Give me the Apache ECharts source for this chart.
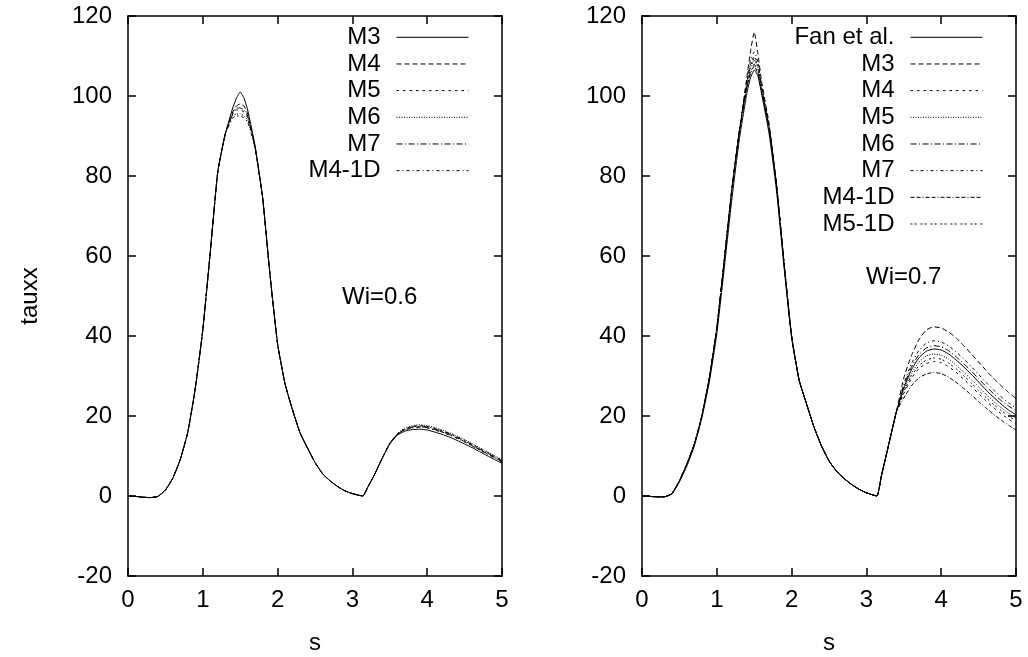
<!DOCTYPE html>
<html>
<head>
<meta charset="utf-8">
<script src="https://cdn.jsdelivr.net/npm/echarts@6/dist/echarts.min.js"></script>
<style>html,body{margin:0;padding:0;background:#fff}#c{width:1028px;height:657px}</style>
</head>
<body>
<div id="c"></div>
<script>
// arc-length coordinate s
const sVals = [0,0.1,0.2,0.3,0.4,0.5,0.6,0.7,0.8,0.9,1.0,1.1,1.2,1.3,1.4,1.45,1.5,1.55,1.6,1.7,1.8,1.9,2.0,2.1,2.2,2.3,2.4,2.5,2.6,2.7,2.8,2.9,3.0,3.14,3.2,3.3,3.4,3.5,3.6,3.7,3.8,3.9,4.0,4.1,4.2,4.3,4.4,4.5,4.6,4.7,4.8,4.9,5.0];

// Left panel, Wi=0.6
const leftM3   = [0,-0.1,-0.3,-0.4,-0.1,1.5,4.5,9.2,16,27,41.5,61,81,90.5, 97,99.5,101,99.5,96.5,87.5,74.5,55,38, 28,21.5,15.8,12,8.4,5.6,3.8,2.4,1.3,0.6,0,2,5.5,9.5, 13,15.2,16.2,16.6,16.7,16.5,16.0,15.4,14.7,13.9,13.0,12.1,11.1,10.1,9.1,8.2];
const leftM4   = [0,-0.1,-0.3,-0.4,-0.1,1.5,4.5,9.2,16,27,41.5,61,81,90.5, 96,97.5,98,97.5,95.5,87,74.5,55,38, 28,21.5,15.8,12,8.4,5.6,3.8,2.4,1.3,0.6,0,2,5.5,9.5, 13.1,15.4,16.6,17.1,17.3,17.1,16.6,16.0,15.3,14.5,13.6,12.6,11.6,10.6,9.6,8.6];
const leftM5   = [0,-0.1,-0.3,-0.4,-0.1,1.5,4.5,9.2,16,27,41.5,61,81,90.5, 95.5,96.5,96.5,96,94.5,87,74.5,55,38, 28,21.5,15.8,12,8.4,5.6,3.8,2.4,1.3,0.6,0,2,5.5,9.5, 13.2,15.5,16.8,17.4,17.6,17.4,16.9,16.3,15.6,14.8,13.9,12.9,11.9,10.9,9.9,8.9];
const leftM6   = [0,-0.1,-0.3,-0.4,-0.1,1.5,4.5,9.2,16,27,41.5,61,81,90.5, 95,95.5,95.5,95,94,87,74.5,55,38, 28,21.5,15.8,12,8.4,5.6,3.8,2.4,1.3,0.6,0,2,5.5,9.5, 13.2,15.6,17,17.6,17.8,17.6,17.1,16.5,15.8,15,14.1,13.1,12.1,11.1,10.1,9.1];
const leftM7   = [0,-0.1,-0.3,-0.4,-0.1,1.5,4.5,9.2,16,27,41.5,61,81,90.5, 95.5,97,97,96.5,95,87,74.5,55,38, 28,21.5,15.8,12,8.4,5.6,3.8,2.4,1.3,0.6,0,2,5.5,9.5, 13.1,15.4,16.7,17.3,17.5,17.3,16.8,16.2,15.5,14.7,13.8,12.8,11.8,10.8,9.8,8.8];
const leftM41D = [0,-0.1,-0.3,-0.4,-0.1,1.5,4.5,9.2,16,27,41.5,61,81,90.5, 94.5,95,95,94.5,93.5,87,74.5,55,38, 28,21.5,15.8,12,8.4,5.6,3.8,2.4,1.3,0.6,0,2,5.5,9.5, 13.1,15.3,16.5,17,17.2,17,16.5,15.9,15.2,14.4,13.5,12.5,11.5,10.5,9.5,8.5];

// Right panel, Wi=0.7
const rightFan  = [0,-0.1,-0.2,-0.2,0.5,3.5,7.5,12.5,19.5,28.5,40.5,57,74,89, 100.5,104.5,106.5,105,100.5,90.5,76,57,39.5, 29,23,17.2,12.5,8.8,6.2,4.4,2.9,1.7,0.8,0,5,13,21, 27,31.5,34.5,36.2,36.75,36.5,35.5,34,32.3,30.5,28.5,26.5,24.7,23,21.5,20.3];
const rightM3   = [0,-0.1,-0.2,-0.2,0.6,3.8,8,13,20,29.5,42,59,76.5,91, 104.5,111,116,110.5,103.5,93,77.5,58,40, 29,23,17.2,12.5,8.8,6.2,4.4,2.9,1.7,0.8,0,5,13,21, 29.5,35,39,41.5,42.3,42,41,39.5,37.6,35.6,33.5,31.4,29.4,27.6,25.9,24.4];
const rightM4   = [0,-0.1,-0.2,-0.2,0.6,3.8,8,13,20,29.5,42,59,76.5,91, 103,108,110,108,102,92,77.5,58,40, 29,23,17.2,12.5,8.8,6.2,4.4,2.9,1.7,0.8,0,5,13,21, 25.6,29.3,31.8,33.1,33.6,33.3,32.3,30.9,29.2,27.4,25.6,23.8,22.1,20.6,19.2,18];
const rightM5   = [0,-0.1,-0.2,-0.2,0.6,3.8,8,13,20,29.5,42,59,76.5,91, 102.5,107,109,107,101.5,92,77.5,58,40, 29,23,17.2,12.5,8.8,6.2,4.4,2.9,1.7,0.8,0,5,13,21, 26.5,30.6,33.4,35,35.5,35.2,34.2,32.7,31,29.2,27.3,25.4,23.7,22.1,20.7,19.5];
const rightM6   = [0,-0.1,-0.2,-0.2,0.6,3.8,8,13,20,29.5,42,59,76.5,91, 102,106,108,106,101,92,77.5,58,40, 29,23,17.2,12.5,8.8,6.2,4.4,2.9,1.7,0.8,0,5,13,21, 27.5,32.2,35.3,37,37.6,37.3,36.3,34.8,33.1,31.3,29.3,27.4,25.6,23.9,22.5,21.3];
const rightM7   = [0,-0.1,-0.2,-0.2,0.6,3.8,8,13,20,29.5,42,59,76.5,91, 103.5,109,111,108.5,102.5,92,77.5,58,40, 29,23,17.2,12.5,8.8,6.2,4.4,2.9,1.7,0.8,0,5,13,21, 28,33,36.3,38.2,38.8,38.5,37.5,36,34.3,32.4,30.4,28.4,26.5,24.8,23.3,22];
const rightM41D = [0,-0.1,-0.2,-0.2,0.6,3.8,8,13,20,29.5,42,59,76.5,91, 102,105.5,107.5,105.5,101,92,77.5,58,40, 29,23,17.2,12.5,8.8,6.2,4.4,2.9,1.7,0.8,0,5,13,21, 24.5,27.5,29.5,30.5,30.9,30.6,29.7,28.4,26.9,25.3,23.6,22,20.4,19,17.7,16.5];
const rightM51D = [0,-0.1,-0.2,-0.2,0.6,3.8,8,13,20,29.5,42,59,76.5,91, 103,107.5,109.5,107.5,102,92,77.5,58,40, 29,23,17.2,12.5,8.8,6.2,4.4,2.9,1.7,0.8,0,5,13,21, 26,30,32.5,34,34.5,34.2,33.2,31.8,30.1,28.3,26.4,24.6,22.9,21.4,20,18.8];

const leftNames  = ['M3','M4','M5','M6','M7','M4-1D'];
const rightNames = ['Fan et al.','M3','M4','M5','M6','M7','M4-1D','M5-1D'];
const xTicks = [0,1,2,3,4,5];
const yTicks = [-20,0,20,40,60,80,100,120];

const leftData  = [leftM3,leftM4,leftM5,leftM6,leftM7,leftM41D];
const rightData = [rightFan,rightM3,rightM4,rightM5,rightM6,rightM7,rightM41D,rightM51D];
const leftDash  = ['solid',[5,3],[2.5,4],[1,1.5],[6,2.5,1,2.5],[3,3,1,3]];
const rightDash = ['solid',[5,3],[2.5,4],[1,1.5],[6,2.5,1,2.5],[3,3,1,3],[4,2,4,2,1,2],[2,2,2,4]];

const FONT = 'Liberation Sans, Arial, Helvetica, sans-serif';
const FS = 24;

function xAx(gi, name) {
  return [{
    gridIndex: gi, type: 'value', min: xTicks[0], max: xTicks[xTicks.length-1], interval: 1,
    position: 'bottom',
    axisLine: {show: true, onZero: false, lineStyle: {color: '#000', width: 1.5}},
    axisTick: {show: true, inside: true, length: 8, lineStyle: {color: '#000', width: 1.5}},
    axisLabel: {show: true, color: '#000', fontSize: FS, fontFamily: FONT, margin: 12},
    splitLine: {show: false},
    name: name, nameLocation: 'middle', nameGap: 55,
    nameTextStyle: {color: '#000', fontSize: FS, fontFamily: FONT}
  }, {
    gridIndex: gi, type: 'value', min: xTicks[0], max: xTicks[xTicks.length-1], interval: 1,
    position: 'top',
    axisLine: {show: true, onZero: false, lineStyle: {color: '#000', width: 1.5}},
    axisTick: {show: true, inside: true, length: 8, lineStyle: {color: '#000', width: 1.5}},
    axisLabel: {show: false}, splitLine: {show: false}
  }];
}
function yAx(gi, name) {
  return [{
    gridIndex: gi, type: 'value', min: yTicks[0], max: yTicks[yTicks.length-1], interval: 20,
    position: 'left',
    axisLine: {show: true, onZero: false, lineStyle: {color: '#000', width: 1.5}},
    axisTick: {show: true, inside: true, length: 8, lineStyle: {color: '#000', width: 1.5}},
    axisLabel: {show: true, color: '#000', fontSize: FS, fontFamily: FONT, margin: 16},
    splitLine: {show: false},
    name: name, nameLocation: 'middle', nameGap: 86, nameRotate: 90,
    nameTextStyle: {color: '#000', fontSize: FS, fontFamily: FONT}
  }, {
    gridIndex: gi, type: 'value', min: yTicks[0], max: yTicks[yTicks.length-1], interval: 20,
    position: 'right',
    axisLine: {show: true, onZero: false, lineStyle: {color: '#000', width: 1.5}},
    axisTick: {show: true, inside: true, length: 8, lineStyle: {color: '#000', width: 1.5}},
    axisLabel: {show: false}, splitLine: {show: false}
  }];
}

const series = [];
const legends = [];
const rowH = 26.67, row0 = 37.3;
function legendFor(nm, i, rightEdge) {
  return {data: [nm], align: 'right', orient: 'vertical', right: 1028 - rightEdge, top: row0 + i*rowH - 12,
    itemWidth: 72, itemHeight: 10, selectedMode: false, padding: 0,
    itemStyle: {opacity: 0, borderWidth: 0},
    lineStyle: {width: 1, color: '#000'},
    formatter: s => s.split('|')[0],
    textStyle: {fontSize: FS, fontFamily: FONT, color: '#000', padding: [0, 11, 0, 0]}};
}
leftNames.forEach((n, i) => {
  series.push({
    name: n, type: 'line', xAxisIndex: 0, yAxisIndex: 0, symbol: 'none', smooth: 0.15,
    color: '#000', itemStyle: {color: '#000', opacity: 0},
    lineStyle: {color: '#000', width: 1, type: leftDash[i]},
    data: sVals.map((x, k) => [x, leftData[i][k]]), z: 10 - i
  });
  legends.push(legendFor(n, i, 469));
});
rightNames.forEach((n, i) => {
  const nm = n + '|R';
  series.push({
    name: nm, type: 'line', xAxisIndex: 2, yAxisIndex: 2, symbol: 'none', smooth: 0.15,
    color: '#000', itemStyle: {color: '#000', opacity: 0},
    lineStyle: {color: '#000', width: 1, type: rightDash[i]},
    data: sVals.map((x, k) => [x, rightData[i][k]]), z: 10 - i
  });
  legends.push(legendFor(nm, i, 983));
});

const chart = echarts.init(document.getElementById('c'), null, {renderer: 'canvas'});
chart.setOption({
  backgroundColor: '#fff',
  animation: false,
  grid: [
    {left: 128, right: 1028 - 502, top: 16, bottom: 657 - 576, containLabel: false, outerBoundsMode: 'none'},
    {left: 642, right: 1028 - 1016, top: 16, bottom: 657 - 576, containLabel: false, outerBoundsMode: 'none'}
  ],
  xAxis: [...xAx(0, 's'), ...xAx(1, 's')],
  yAxis: [...yAx(0, 'tauxx'), ...yAx(1, '')],
  legend: legends,
  graphic: [
    {type: 'text', left: 342, top: 285, style: {text: 'Wi=0.6', font: FS + 'px ' + FONT, fill: '#000'}},
    {type: 'text', left: 866, top: 265, style: {text: 'Wi=0.7', font: FS + 'px ' + FONT, fill: '#000'}}
  ],
  series: series
});
</script>
</body>
</html>
